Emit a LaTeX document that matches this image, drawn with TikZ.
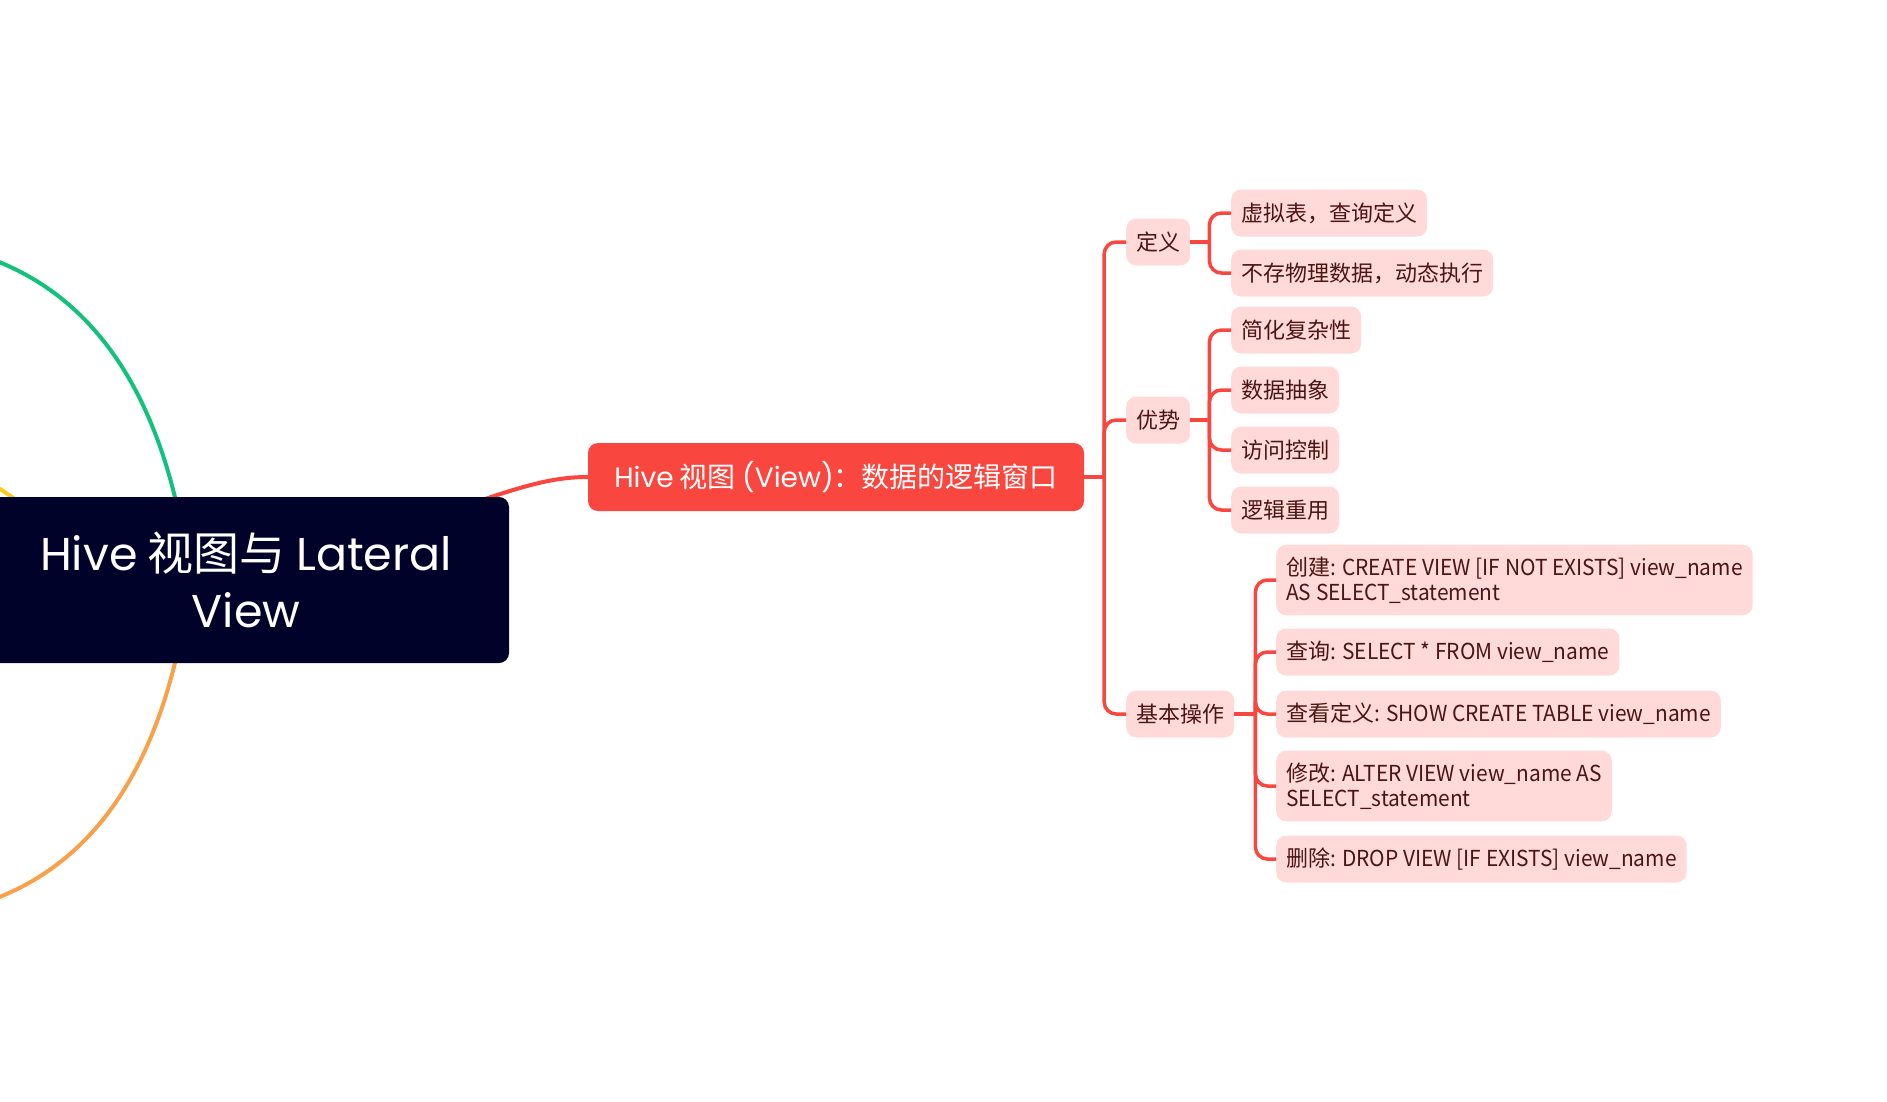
\documentclass[tikz,border=0pt]{standalone}
\usepackage{fontspec}
\setmainfont{Noto Sans CJK SC}
\newfontfamily\roundfont{Poppins}
\newfontfamily\codefont{Noto Sans CJK SC}[FakeStretch=0.95]
\usetikzlibrary{positioning,backgrounds}

\definecolor{rootblue}{HTML}{000229}
\definecolor{branchred}{HTML}{F9463E}
\definecolor{leafpink}{HTML}{FFDAD8}
\definecolor{leaftext}{HTML}{4A1512}
\definecolor{curvegreen}{HTML}{13C07E}
\definecolor{curveorange}{HTML}{F8A04A}
\definecolor{curveyellow}{HTML}{F5CE1E}

\tikzset{
	rootbox/.style={fill=rootblue, rounded corners=10pt, text=white, align=center,
		font=\fontsize{46}{57}\selectfont, minimum width=526pt, minimum height=166pt},
	topicbox/.style={fill=branchred, rounded corners=10pt, text=white,
		font=\fontsize{28}{34}\selectfont, minimum width=496pt, minimum height=68pt},
	leafbox/.style={fill=leafpink, rounded corners=10pt, text=leaftext, align=left,
		font=\fontsize{22}{25}\selectfont, minimum height=47pt, inner xsep=10pt, inner ysep=12pt},
	branch/.style={draw=branchred, line width=3.5pt},
	elbow/.style={branch, rounded corners=12pt},
	stroke/.style={line width=4pt},
}

\begin{document}
\begin{tikzpicture}[x=1pt, y=-1pt]
		%%%%% START %%%%%
		\useasboundingbox (0, 0) rectangle (1887, 1101);
		
		\node[rootbox] (root) at (246, 580) {{\roundfont Hive} 视图与 {\roundfont Lateral}\\{\roundfont View}};
		\node[topicbox] (view) at (836, 477) {{\roundfont Hive} 视图 {\roundfont (View)}：数据的逻辑窗口};
		
		% second level
		\node[leafbox, anchor=west] (def) at (1126, 242) {定义};
		\node[leafbox, anchor=west] (adv) at (1126, 420) {优势};
		\node[leafbox, anchor=west] (ops) at (1126, 714) {基本操作};
		
		% leaves
		\node[leafbox, anchor=west] (defa) at (1231, 213) {虚拟表，查询定义};
		\node[leafbox, anchor=west] (defb) at (1231, 273) {不存物理数据，动态执行};
		
		\node[leafbox, anchor=west] (adva) at (1231, 330) {简化复杂性};
		\node[leafbox, anchor=west] (advb) at (1231, 390) {数据抽象};
		\node[leafbox, anchor=west] (advc) at (1231, 450) {访问控制};
		\node[leafbox, anchor=west] (advd) at (1231, 510) {逻辑重用};
		
		\node[leafbox, anchor=west] (opsa) at (1276, 580) {创建{\codefont: CREATE VIEW [IF NOT EXISTS] view\_name}\\{\codefont AS SELECT\_statement}};
		\node[leafbox, anchor=west] (opsb) at (1276, 652) {查询{\codefont: SELECT * FROM view\_name}};
		\node[leafbox, anchor=west] (opsc) at (1276, 714) {查看定义{\codefont: SHOW CREATE TABLE view\_name}};
		\node[leafbox, anchor=west] (opsd) at (1276, 786) {修改{\codefont: ALTER VIEW view\_name AS}\\{\codefont SELECT\_statement}};
		\node[leafbox, anchor=west] (opse) at (1276, 859) {删除{\codefont: DROP VIEW [IF EXISTS] view\_name}};
		
		\coordinate (trunk) at ([xshift=20pt]view.east);
		\coordinate (defjoint) at ([xshift=19pt]def.east);
		\coordinate (advjoint) at ([xshift=19pt]adv.east);
		\coordinate (opsjoint) at ([xshift=21pt]ops.east);
		
		\coordinate (greenend) at (-20, 255);
		\coordinate (orangeend) at (-20, 904);
		\coordinate (yellowend) at (-30, 469);
		
		\begin{scope}[on background layer]
			\draw[stroke, curvegreen] (greenend) .. controls (100, 294) and (168, 405) .. (root.center -| 190, 0);
			\draw[stroke, curveorange] (root.center -| 190, 0) .. controls (168, 755) and (100, 866) .. (orangeend);
			\draw[stroke, curveyellow] (yellowend) -- ([shift={(-216, -71)}]root.center);
			\draw[stroke, branchred] (root.center) .. controls (480, 505) and (525, 477) .. (view.west);
		\end{scope}
		
		\draw[branch] (view.east) -- (trunk);
		\foreach \n in {def, adv, ops}
			\draw[elbow] (trunk) |- (\n.west);
		
		\draw[branch] (def.east) -- (defjoint);
		\foreach \n in {defa, defb}
			\draw[elbow] (defjoint) |- (\n.west);
		
		\draw[branch] (adv.east) -- (advjoint);
		\foreach \n in {adva, advb, advc, advd}
			\draw[elbow] (advjoint) |- (\n.west);
		
		\draw[branch] (ops.east) -- (opsjoint);
		\foreach \n in {opsa, opsb, opsc, opsd, opse}
			\draw[elbow] (opsjoint) |- (\n.west);
		
		%%%%% END %%%%%
	\end{tikzpicture}
\end{document}
